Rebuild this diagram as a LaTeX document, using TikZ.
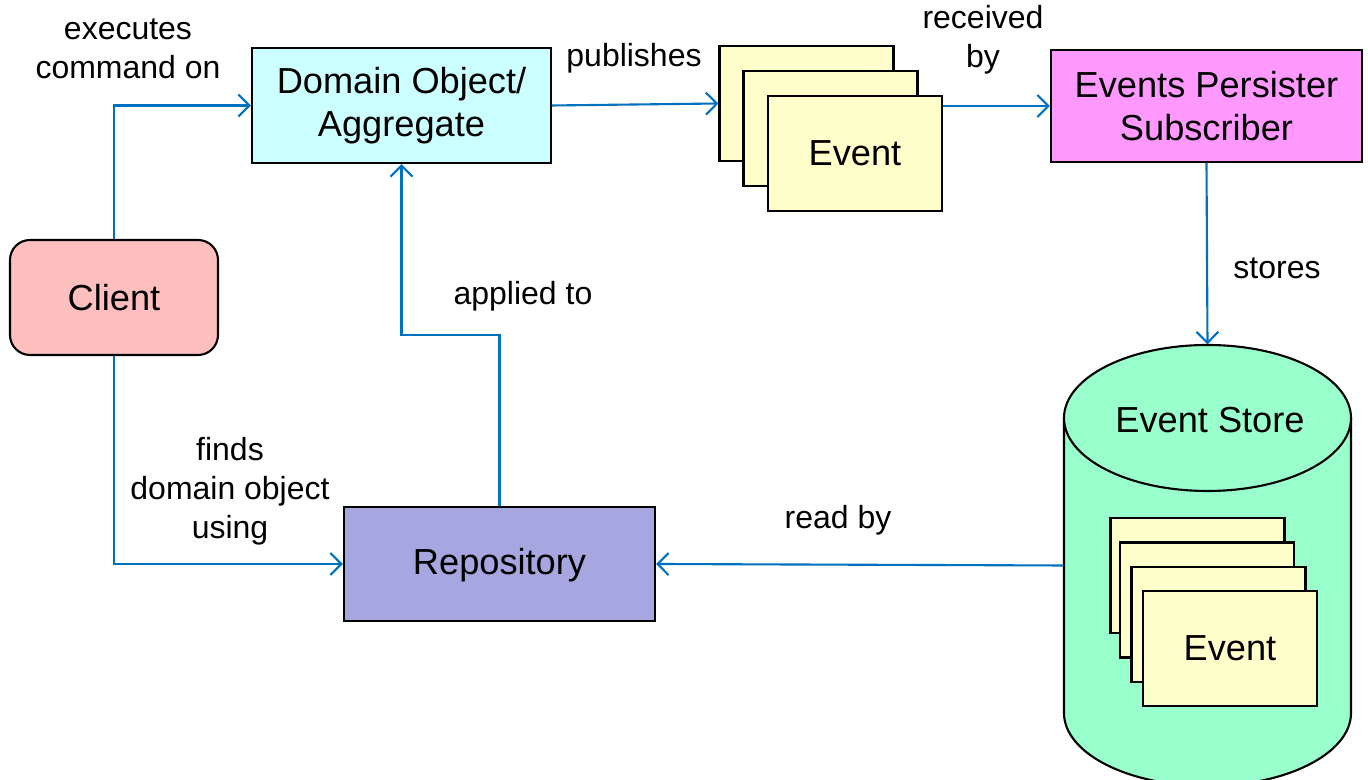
\documentclass[tikz,border=0pt]{standalone}
\usepackage{fontspec}
\setmainfont{Liberation Sans}
\usetikzlibrary{arrows.meta}

\definecolor{arrblue}{HTML}{0070C0}
\definecolor{domfill}{HTML}{CCFFFF}
\definecolor{clientfill}{HTML}{FFBFBF}
\definecolor{repofill}{HTML}{A6A6E0}
\definecolor{evfill}{HTML}{FFFFCC}
\definecolor{persfill}{HTML}{FF99FF}
\definecolor{storefill}{HTML}{99FFCC}

\tikzset{
    box/.style={draw, line width=0.6pt, inner sep=0pt, align=center,
        font=\fontsize{10.3}{12.2}\selectfont},
    evbox/.style={box, fill=evfill, minimum width=1.74cm, minimum height=1.15cm},
    lbl/.style={align=center, font=\fontsize{9.1}{11.1}\selectfont},
    arr/.style={draw=arrblue, line width=0.6pt, -{Straight Barb[length=1.1mm,width=2.2mm]}}
}

\begin{document}
\begin{tikzpicture}
            \useasboundingbox (0,0) rectangle (13.68,7.8);

            \node[box,fill=domfill,minimum width=2.99cm,minimum height=1.15cm] (dom) at (4.015, 6.745) {Domain Object/\\Aggregate};
            \node[box,fill=clientfill,rounded corners=0.2cm,minimum width=2.08cm,minimum height=1.15cm] (client) at (1.14, 4.825) {Client};
            \node[box,fill=repofill,minimum width=3.11cm,minimum height=1.14cm,text depth=0.05cm] (repo) at (4.995, 2.16) {Repository};

            \node[evbox] (ev1) at (8.065, 6.765) {};
            \node[evbox] (ev2) at (8.305, 6.515) {};
            \node[evbox] (ev3) at (8.55, 6.265) {Event};

            \node[box,fill=persfill,minimum width=3.11cm,minimum height=1.12cm] (pers) at (12.065, 6.74) {Events Persister\\Subscriber};

            % event store cylinder
            \node[minimum width=2.87cm,minimum height=4.41cm,inner sep=0pt] (store) at (12.075, 2.145) {};
            \draw[line width=0.6pt,fill=storefill] (10.64,3.62) -- (10.64,0.67) arc[start angle=180,end angle=360,x radius=1.435cm,y radius=0.73cm] -- (13.51,3.62);
            \draw[line width=0.6pt,fill=storefill] (12.075,3.62) ellipse[x radius=1.435cm,y radius=0.73cm];
            \node[box,draw=none] (storelbl) at (12.10, 3.6) {Event Store};

            \node[evbox] (sev1) at (11.975, 2.045) {};
            \node[evbox] (sev2) at (12.07, 1.80) {};
            \node[evbox] (sev3) at (12.185, 1.555) {};
            \node[evbox] (sev4) at (12.30, 1.315) {Event};

            \draw[arr] (client.north) |- (dom.west);
            \draw[arr] (client.south) |- (repo.west);
            \draw[arr] (repo.north) -- (repo.north |- 0,4.45) -| (dom.south);
            \draw[arr] (dom.east) -- (ev1.west);
            \draw[arr] (ev3.east |- pers.west) -- (pers.west);
            \draw[arr] (pers.south) -- (store.north);
            \draw[arr] (store.west) -- (repo.east);

            \node[lbl] (exec) at (1.28, 7.31) {executes\\command on};
            \node[lbl] (finds) at (2.30, 2.89) {finds\\domain object\\using};
            \node[lbl] (applied) at (5.23, 4.84) {applied to};
            \node[lbl] (publ) at (6.34, 7.22) {publishes};
            \node[lbl] (recv) at (9.83, 7.40) {received\\by};
            \node[lbl] (stores) at (12.77, 5.12) {stores};
            \node[lbl] (readby) at (8.38, 2.60) {read by};
        \end{tikzpicture}
\end{document}
